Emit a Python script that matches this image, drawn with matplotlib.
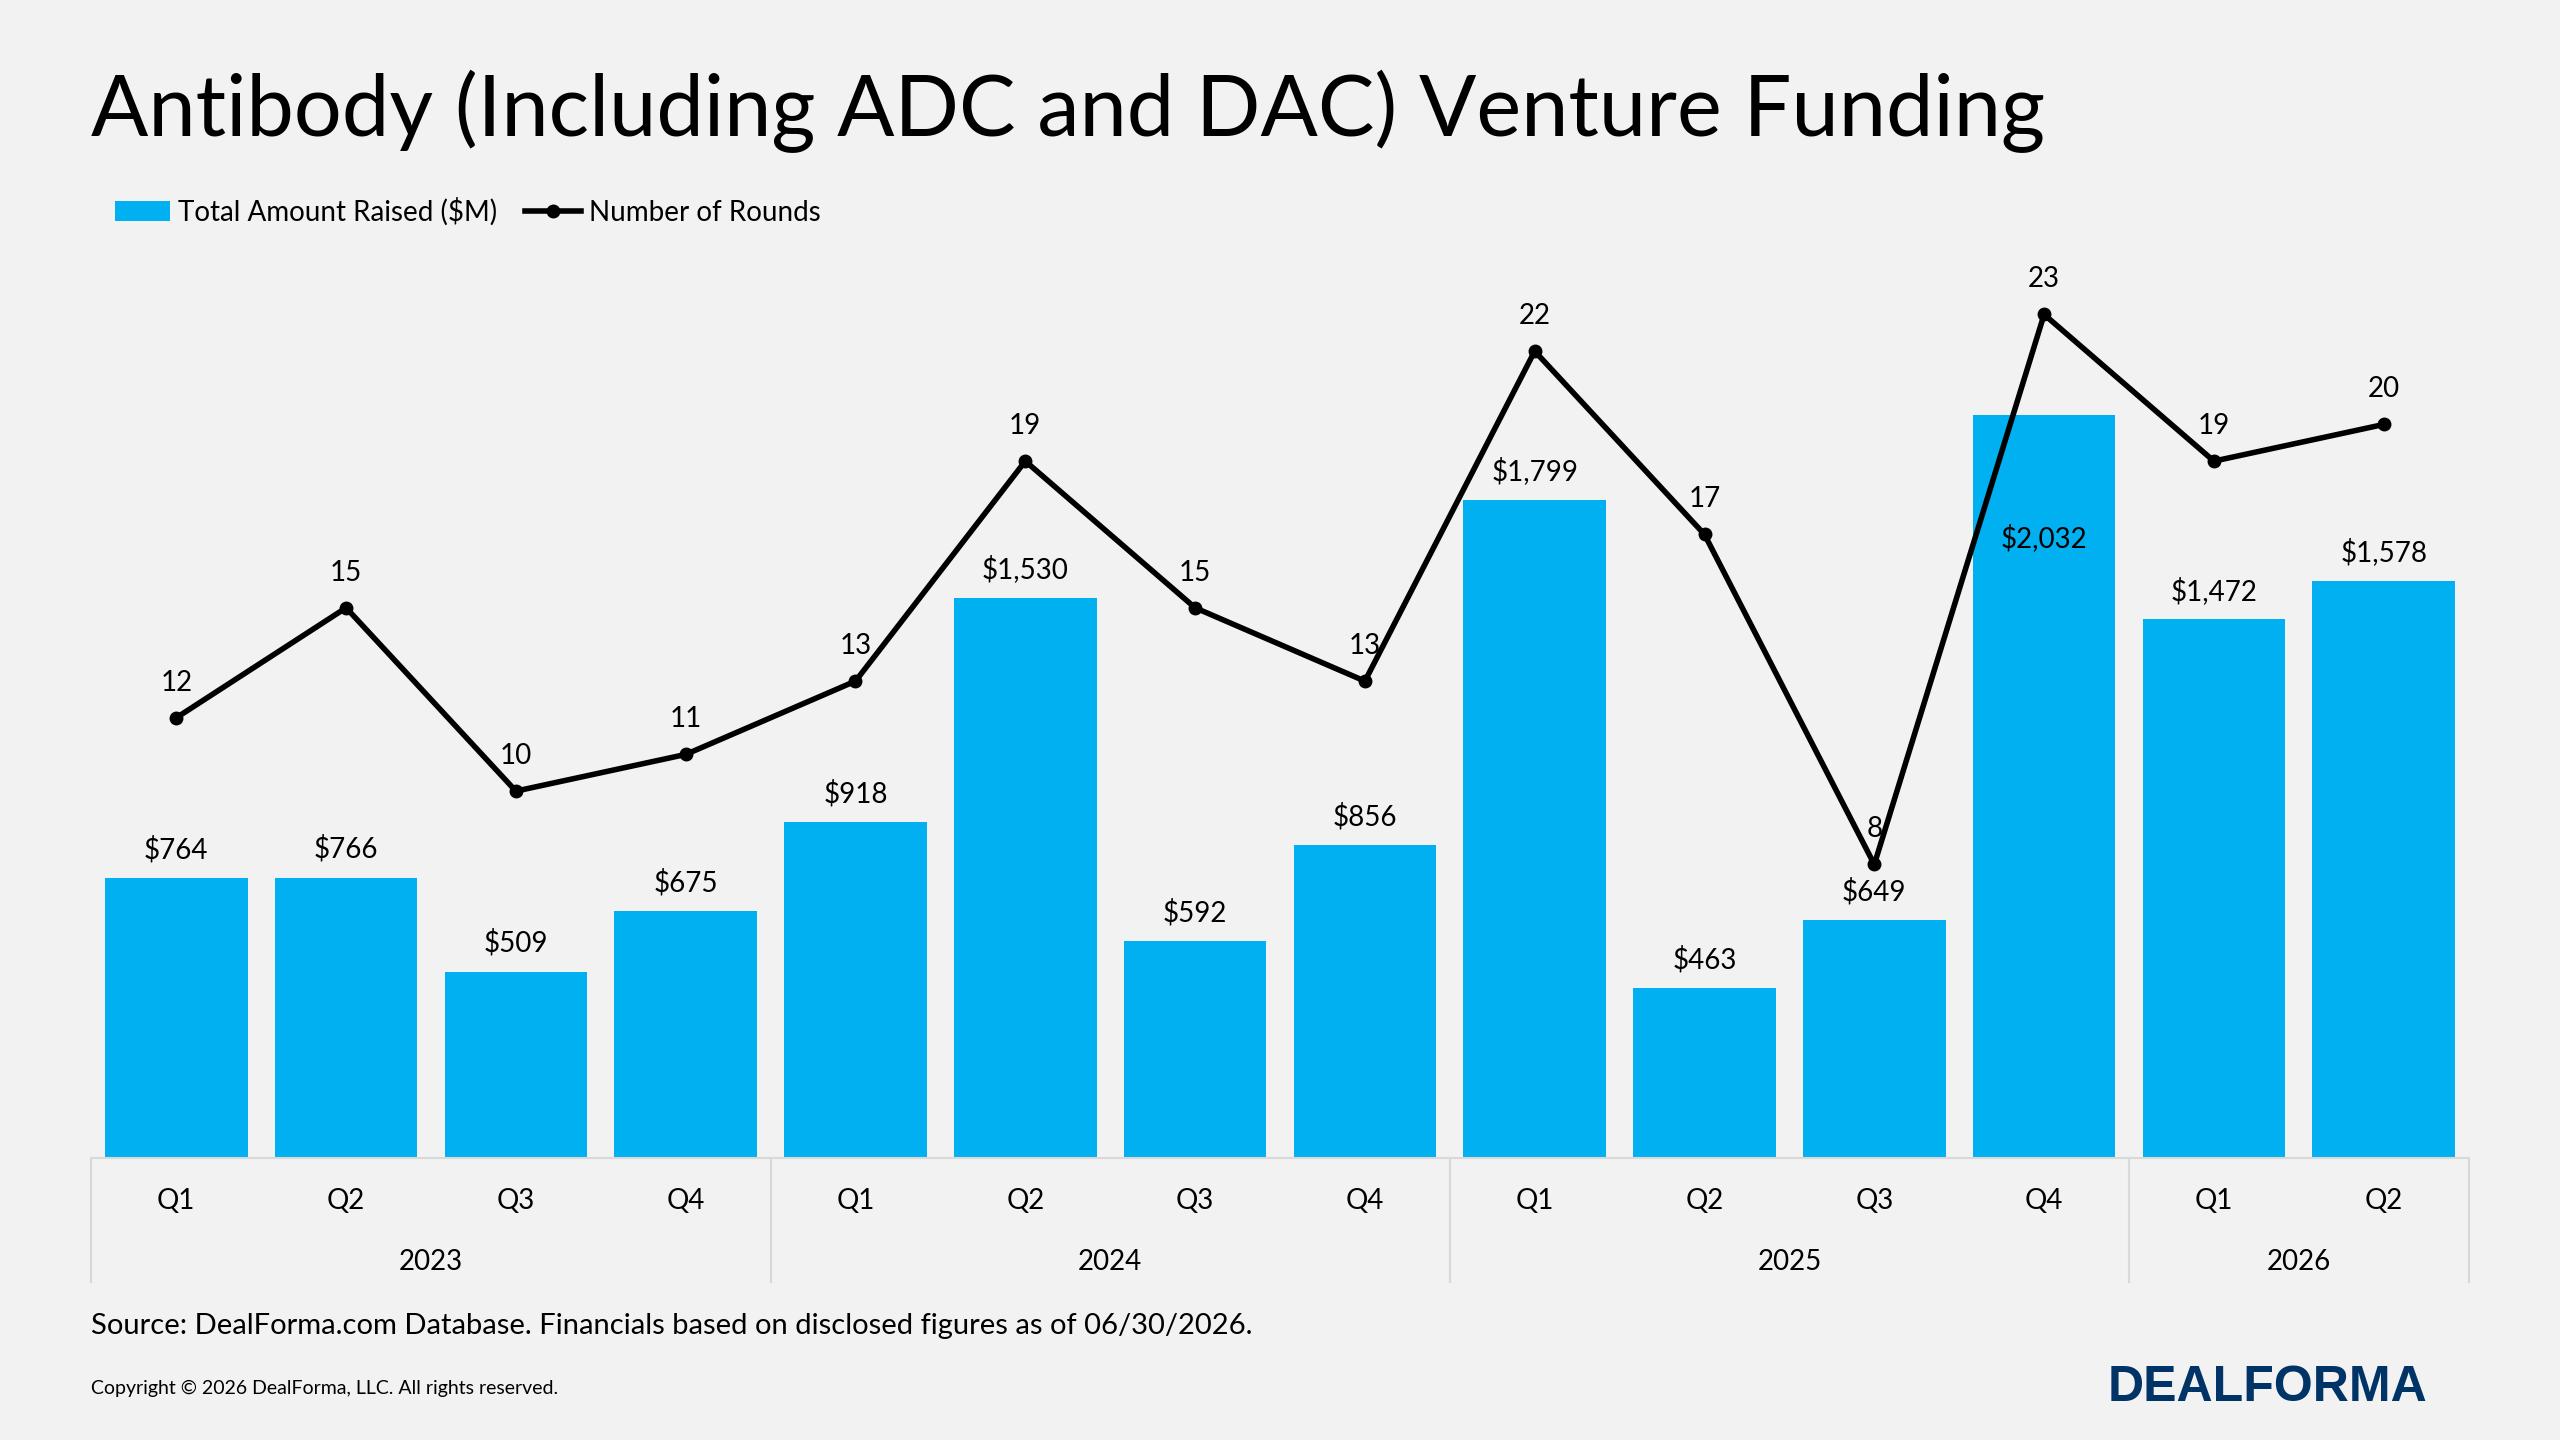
import matplotlib.pyplot as plt
import numpy as np

plt.rcParams['font.family'] = ['Lato', 'DejaVu Sans']

quarters = ['Q1', 'Q2', 'Q3', 'Q4', 'Q1', 'Q2', 'Q3', 'Q4', 'Q1', 'Q2', 'Q3', 'Q4', 'Q1', 'Q2']
years = ['2023', '2024', '2025', '2026']
year_counts = [4, 4, 4, 2]
amount = [764, 766, 509, 675, 918, 1530, 592, 856, 1799, 463, 649, 2032, 1472, 1578]
rounds = [12, 15, 10, 11, 13, 19, 15, 13, 22, 17, 8, 23, 19, 20]

bg = '#f2f2f2'
blue = '#00b0f0'
fig = plt.figure(figsize=(25.6, 14.4), dpi=100, facecolor=bg)
ax = fig.add_axes([0.0357, 0.196, 0.9286, 0.634])
ax.set_facecolor(bg)
x = np.arange(len(amount))
ax.bar(x, amount, width=0.84, color=blue, label='Total Amount Raised ($M)', zorder=2)
ax.set_xlim(-0.5, len(amount) - 0.5)
ax.set_ylim(0, 2496)
for i, v in enumerate(amount):
    # the tallest label sits inside its bar, under the line peak
    y = v - 375 if v == max(amount) else v + 40
    ax.text(i, y, '${:,}'.format(v), ha='center', va='bottom', fontsize=20, zorder=5)
for s in ax.spines.values():
    s.set_visible(False)
ax.set_yticks([])
ax.set_xticks([])

ax2 = ax.twinx()
ax2.set_ylim(0, 24.9)
ax2.plot(x, rounds, color='black', lw=4, marker='o', ms=9, label='Number of Rounds', zorder=3)
for i, v in enumerate(rounds):
    ax2.text(i, v + 0.6, str(v), ha='center', va='bottom', fontsize=20)
for s in ax2.spines.values():
    s.set_visible(False)
ax2.set_yticks([])

# category axis
tr = ax.get_xaxis_transform()
ax.plot([-0.5, len(amount) - 0.5], [0, 0], transform=tr, color='#d9d9d9', lw=1.5, clip_on=False)
for i, q in enumerate(quarters):
    ax.text(i, -0.047, q, transform=tr, ha='center', va='center', fontsize=20)
start = 0
bounds = [-0.5]
for y, n in zip(years, year_counts):
    ax.text(start + (n - 1) / 2, -0.114, y, transform=tr, ha='center', va='center', fontsize=20)
    start += n
    bounds.append(start - 0.5)
for b in bounds:
    ax.plot([b, b], [0, -0.136], transform=tr, color='#d9d9d9', lw=1.5, clip_on=False)

fig.text(0.0357, 0.923, 'Antibody (Including ADC and DAC) Venture Funding', fontsize=61, va='center')
h1, l1 = ax.get_legend_handles_labels()
h2, l2 = ax2.get_legend_handles_labels()
fig.legend(h1 + h2, l1 + l2, loc='center left', bbox_to_anchor=(0.035, 0.853), ncol=2, frameon=False,
           fontsize=20, handlelength=2.0, columnspacing=1.0, handletextpad=0.3)
fig.text(0.0357, 0.079, 'Source: DealForma.com Database. Financials based on disclosed figures as of 06/30/2026.',
         fontsize=21, va='center')
fig.text(0.0357, 0.036, 'Copyright \u00a9 2026 DealForma, LLC. All rights reserved.', fontsize=14, va='center')
fig.text(0.948, 0.036, 'DEALFORMA', fontsize=36, fontweight='bold', color='#003366', ha='right', va='center',
         family='Liberation Sans')
fig.savefig('out.png', dpi=100, facecolor=bg)
